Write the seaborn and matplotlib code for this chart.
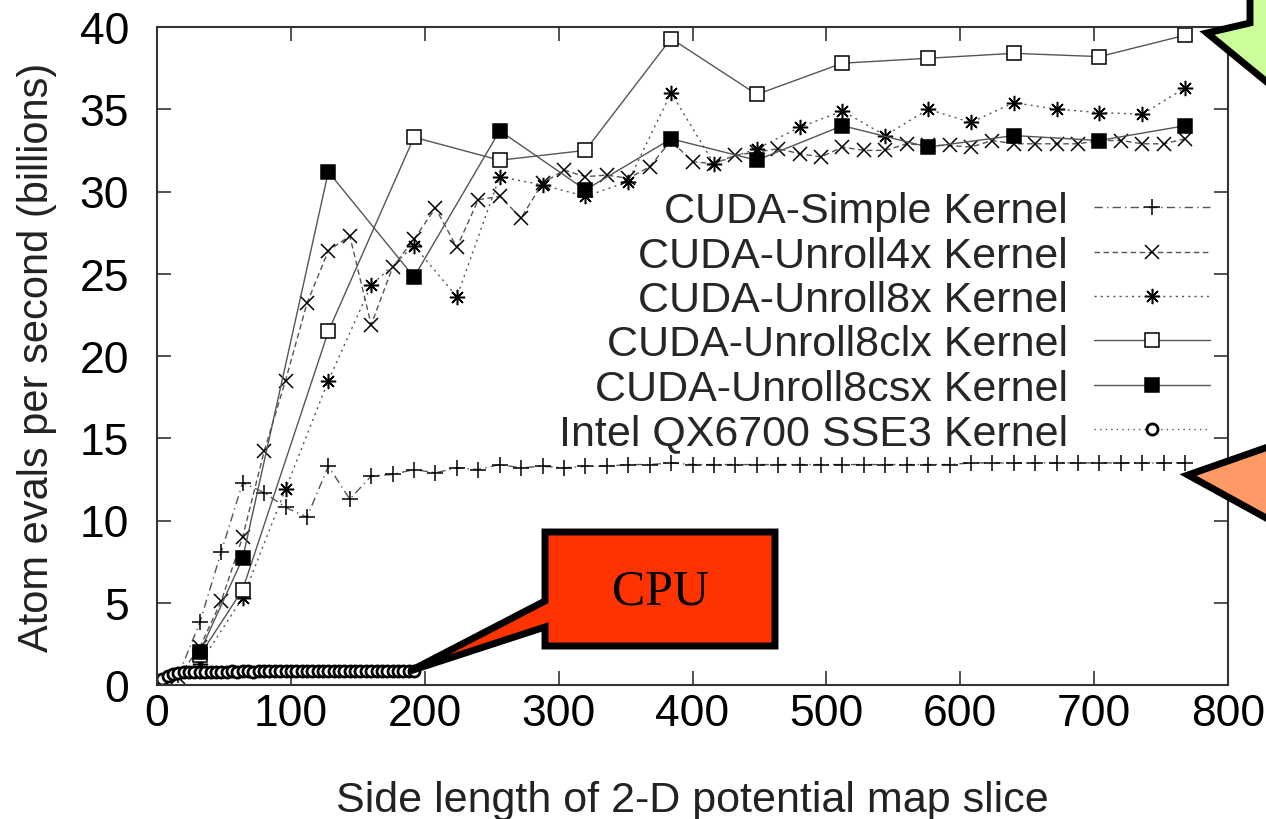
import matplotlib
import matplotlib.pyplot as plt
import seaborn as sns
from matplotlib.patches import Polygon

matplotlib.use('Agg')

# ---- data ----
simple_x = list(range(16, 769, 16))
simple_y = [0.6, 3.8, 8.1, 12.3, 11.7, 10.8, 10.2, 13.3, 11.3, 12.7,
            12.8, 13.1, 12.9, 13.2, 13.1, 13.4, 13.2, 13.3, 13.2, 13.3,
            13.3, 13.4, 13.4, 13.5, 13.4, 13.4, 13.4, 13.4, 13.4, 13.4,
            13.4, 13.4, 13.4, 13.4, 13.4, 13.4, 13.4, 13.5, 13.5, 13.5,
            13.5, 13.5, 13.5, 13.5, 13.5, 13.5, 13.5, 13.5]

unroll4_x = list(range(16, 769, 16))
unroll4_y = [0.5, 2.3, 5.1, 9.0, 14.2, 18.5, 23.2, 26.4, 27.3, 21.9,
             25.4, 27.1, 29.0, 26.6, 29.5, 29.7, 28.4, 30.5, 31.3, 30.9,
             31.0, 30.8, 31.5, 33.1, 31.8, 31.7, 32.2, 32.4, 32.6, 32.3,
             32.1, 32.7, 32.5, 32.5, 32.9, 32.8, 32.8, 32.7, 33.1, 32.9,
             32.9, 32.9, 32.9, 33.1, 33.1, 32.9, 32.9, 33.2]

unroll8_x = list(range(32, 769, 32))
unroll8_y = [1.3, 5.3, 11.9, 18.5, 24.3, 26.7, 23.6, 30.9, 30.4, 29.7,
             30.6, 36.0, 31.7, 32.6, 33.9, 34.9, 33.4, 35.0, 34.2, 35.4,
             35.0, 34.8, 34.7, 36.3]

clx_x = [32, 64, 128, 192, 256, 320, 384, 448, 512, 576, 640, 704, 768]
clx_y = [1.8, 5.8, 21.5, 33.3, 31.9, 32.5, 39.3, 35.9, 37.8, 38.1, 38.4, 38.2, 39.5]

csx_x = [32, 64, 128, 192, 256, 320, 384, 448, 512, 576, 640, 704, 768]
csx_y = [2.0, 7.7, 31.2, 24.8, 33.7, 30.1, 33.2, 31.9, 34.0, 32.7, 33.4, 33.1, 34.0]

cpu_x = list(range(0, 193, 4))
cpu_y = [0.05, 0.35, 0.55, 0.66, 0.72, 0.76, 0.78, 0.79, 0.80, 0.81,
         0.81, 0.82, 0.82, 0.82, 0.83, 0.82, 0.83, 0.83, 0.82, 0.83,
         0.83, 0.83, 0.84, 0.83, 0.83, 0.84, 0.83, 0.84, 0.84, 0.83,
         0.84, 0.84, 0.84, 0.83, 0.84, 0.84, 0.84, 0.84, 0.83, 0.84,
         0.84, 0.84, 0.84, 0.84, 0.84, 0.83, 0.84, 0.84, 0.84]

labels = ['CUDA-Simple Kernel', 'CUDA-Unroll4x Kernel', 'CUDA-Unroll8x Kernel',
          'CUDA-Unroll8clx Kernel', 'CUDA-Unroll8csx Kernel', 'Intel QX6700 SSE3 Kernel']

# style per series: linestyle, marker, markersize, facecolor, edge width
styles = [
    ((0, (6, 3, 1, 3)), '+', 12, 'black', 1.1),
    ((0, (4, 2.5)), 'x', 10, 'black', 1.1),
    ((0, (1.5, 3)), (8, 2, 0), 11, 'black', 1.1),
    ('-', 's', 10, 'white', 1.1),
    ('-', 's', 10, 'black', 1.1),
    ((0, (1, 3)), 'o', 8, 'white', 2.0),
]

sns.set_style('ticks')
plt.rcParams['font.family'] = ['Liberation Sans', 'DejaVu Sans']

W, H = 1266, 820
fig = plt.figure(figsize=(W / 100, H / 100), dpi=100)
ax = fig.add_axes([157 / W, 1 - 686 / H, (1228 - 157) / W, (686 - 28) / H])

data = [(simple_x, simple_y), (unroll4_x, unroll4_y), (unroll8_x, unroll8_y),
        (clx_x, clx_y), (csx_x, csx_y), (cpu_x, cpu_y)]

for (xs, ys), lab, (ls, mk, ms, fc, mew) in zip(data, labels, styles):
    sns.lineplot(x=xs, y=ys, ax=ax, label=lab, color='#555555',
                 linestyle=ls, linewidth=1.0, marker=mk, markersize=ms,
                 markerfacecolor=fc, markeredgecolor='black', markeredgewidth=mew)

ax.set_xlim(0, 800)
ax.set_ylim(0, 40)
ax.set_xticks(range(0, 801, 100))
ax.set_yticks(range(0, 41, 5))
ax.tick_params(direction='in', length=10, width=1.2, top=True, right=True,
               labelsize=32, colors='#333333', labelcolor='black')
ax.tick_params(axis='x', pad=6)
ax.tick_params(axis='y', pad=20)
for s in ax.spines.values():
    s.set_color('#333333')
    s.set_linewidth(1.5)

ax.set_xlabel('Side length of 2-D potential map slice', fontsize=31, labelpad=33, color='#222222')
ax.set_ylabel('Atom evals per second (billions)', fontsize=30, labelpad=16, color='#222222')

leg = ax.legend(loc='upper right', bbox_to_anchor=(0.983, 0.75), frameon=False,
                markerfirst=False, fontsize=31, handlelength=2.7, handletextpad=0.6,
                labelspacing=0.1, borderpad=0, borderaxespad=0)
for col in leg._legend_handle_box.get_children():
    col.align = 'right'


# callouts (pixel coords of the picture)
def fig_pts(pts):
    return [(px / W, 1 - py / H) for px, py in pts]


cpu_box = [(545, 533), (775, 533), (775, 647), (545, 647), (545, 628), (410, 672), (545, 602)]
green_box = [(1207, 34), (1250, 24), (1250, -20), (1330, -20), (1330, 120), (1268, 84)]
orange_box = [(1188, 476), (1268, 448), (1330, 440), (1330, 560), (1268, 520)]

for pts, fc in [(cpu_box, '#FF3300'), (green_box, '#CCFF99'), (orange_box, '#FF9966')]:
    fig.add_artist(Polygon(fig_pts(pts), closed=True, transform=fig.transFigure,
                           facecolor=fc, edgecolor='black', linewidth=5, zorder=10,
                           joinstyle='miter'))

fig.text(660 / W, 1 - 592 / H, 'CPU', family='Liberation Serif', fontsize=36,
         ha='center', va='center', color='black', zorder=11)

fig.savefig('out.png', dpi=100)
